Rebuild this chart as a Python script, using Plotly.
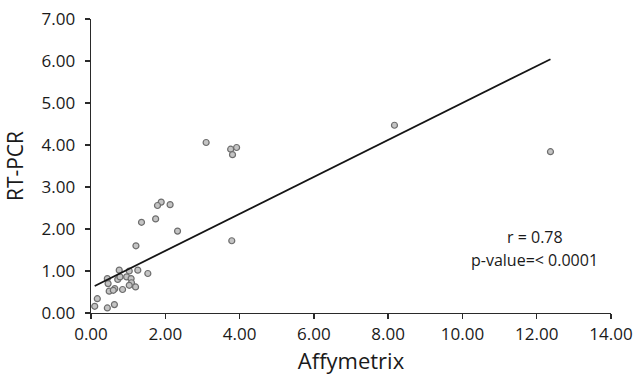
import plotly.graph_objects as go

# Data
affymetrix = [0.76, 1.03, 1.26, 1.53, 0.44, 0.72, 0.78, 0.96, 1.08, 0.46,
              1.09, 1.03, 1.20, 0.64, 0.49, 0.60, 0.85, 0.17, 0.10, 0.44,
              0.63, 1.89, 1.79, 2.13, 1.36, 1.74, 2.33, 1.21, 3.10, 3.76,
              3.92, 3.81, 3.79, 8.17, 12.37]
rt_pcr = [1.02, 1.00, 1.02, 0.94, 0.82, 0.80, 0.86, 0.86, 0.82, 0.70,
          0.72, 0.66, 0.62, 0.58, 0.52, 0.54, 0.56, 0.34, 0.16, 0.12,
          0.20, 2.64, 2.56, 2.58, 2.16, 2.24, 1.95, 1.60, 4.06, 3.90,
          3.94, 3.77, 1.72, 4.47, 3.84]

# Trend line: y = intercept + slope * x
trend_intercept = 0.60
trend_slope = 0.44
trend_x = [min(affymetrix), max(affymetrix)]
trend_y = [trend_intercept + trend_slope * v for v in trend_x]

x_ticks = [0, 2, 4, 6, 8, 10, 12, 14]
x_tick_labels = ["0.00", "2.00", "4.00", "6.00", "8.00", "10.00", "12.00", "14.00"]
y_ticks = [0, 1, 2, 3, 4, 5, 6, 7]
y_tick_labels = ["0.00", "1.00", "2.00", "3.00", "4.00", "5.00", "6.00", "7.00"]

stats_text = ["r = 0.78", "p-value=< 0.0001"]

FONT = "Open Sans"
TXT = "#1a1a1a"
AX = "#2a2a2a"

fig = go.Figure()
fig.add_trace(go.Scatter(
    x=affymetrix, y=rt_pcr, mode="markers",
    marker=dict(size=6, color="#c4c4c4", line=dict(color="#6e6e6e", width=1.2)),
    showlegend=False, hoverinfo="skip"))
fig.add_trace(go.Scatter(
    x=trend_x, y=trend_y, mode="lines",
    line=dict(color="#151515", width=1.8),
    showlegend=False, hoverinfo="skip"))

fig.add_annotation(x=11.95, y=1.80, text=stats_text[0], showarrow=False,
                   xanchor="center", yanchor="middle",
                   font=dict(family=FONT, size=16, color=TXT))
fig.add_annotation(x=11.95, y=1.27, text=stats_text[1], showarrow=False,
                   xanchor="center", yanchor="middle",
                   font=dict(family=FONT, size=16, color=TXT))

fig.update_layout(
    width=634, height=375,
    margin=dict(l=91, r=23, t=19, b=62, autoexpand=False),
    paper_bgcolor="white", plot_bgcolor="white",
    font=dict(family=FONT, color=TXT),
    xaxis=dict(
        range=[0, 14], tickvals=x_ticks, ticktext=x_tick_labels,
        showgrid=False, zeroline=False, showline=True, linecolor=AX, linewidth=1.4,
        ticks="outside", ticklen=5, tickcolor=AX, tickwidth=1.3,
        tickfont=dict(family=FONT, size=17, color=TXT),
        title=dict(text="Affymetrix", font=dict(family=FONT, size=22, color=TXT), standoff=11),
    ),
    yaxis=dict(
        range=[0, 7], tickvals=y_ticks, ticktext=y_tick_labels,
        showgrid=False, zeroline=False, showline=True, linecolor=AX, linewidth=1.4,
        ticks="outside", ticklen=5, tickcolor=AX, tickwidth=1.3,
        ticklabelstandoff=6,
        tickfont=dict(family=FONT, size=17, color=TXT),
        title=dict(text="RT-PCR", font=dict(family=FONT, size=21, color=TXT), standoff=12),
    ),
)

fig.write_html("out.html",
               config={"displayModeBar": False, "staticPlot": True},
               post_script="document.body.style.margin='0';document.body.style.overflow='hidden';")
